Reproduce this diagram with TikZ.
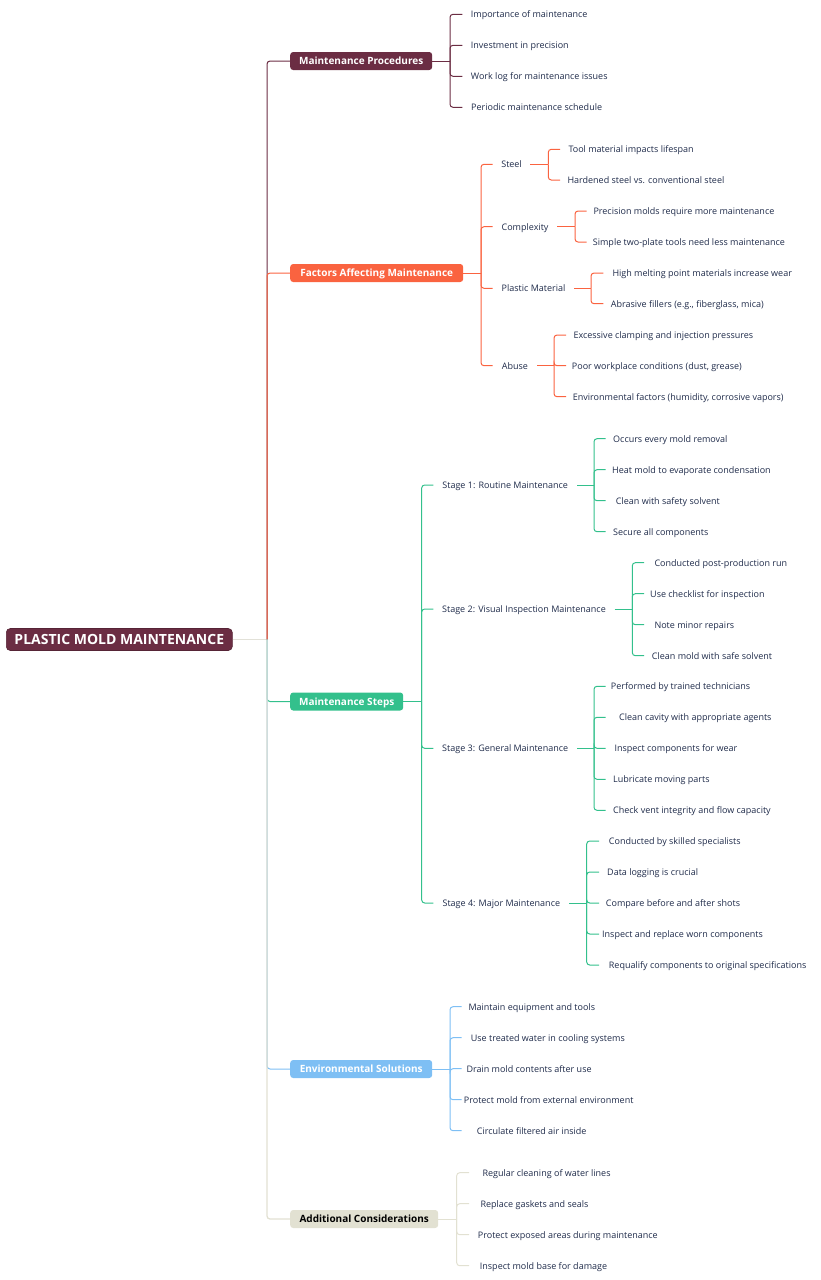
\documentclass[tikz,border=0pt]{standalone}
\usepackage{fontspec}
\setmainfont{Open Sans}
\definecolor{cmp}{HTML}{6B2D43}
\definecolor{cfa}{HTML}{FA6340}
\definecolor{cms}{HTML}{33C08C}
\definecolor{ces}{HTML}{7EBFF4}
\definecolor{cac}{HTML}{E2E1D2}
\definecolor{cgrey}{HTML}{E2E1D8}
\definecolor{leafc}{HTML}{1F2B4A}
\begin{document}
\begin{tikzpicture}[x=1pt,y=-1pt,
  link/.style={line width=1pt, rounded corners=3pt},
  leaf/.style={anchor=west, inner sep=0pt, text=leafc, font=\fontsize{9}{10}\selectfont, text height=6.6pt, text depth=0pt},
  mid/.style={leaf, align=center},
  mainbox/.style={anchor=west, rounded corners=3pt, minimum height=18pt, inner sep=0pt, font=\bfseries\fontsize{10}{12}\selectfont, text=white, text height=7pt, text depth=0pt},
  rootbox/.style={anchor=west, rounded corners=4pt, minimum height=22pt, inner sep=0pt, font=\bfseries\fontsize{14}{16}\selectfont, text=white, text height=9.8pt, text depth=0pt, draw=cmp!80!black, line width=0.6pt}
]
\useasboundingbox (0,0) rectangle (820,1280);

% root and main branches
\node[rootbox, fill=cmp, minimum width=226pt] (root) at (6,639.5) {PLASTIC MOLD MAINTENANCE};
\node[mainbox, fill=cmp, minimum width=142pt] (mp) at (290,61) {Maintenance Procedures};
\node[mainbox, fill=cfa, minimum width=173pt] (fam) at (290,273) {Factors Affecting Maintenance};
\node[mainbox, fill=cms, minimum width=113pt] (ms) at (290,701.5) {Maintenance Steps};
\node[mainbox, fill=ces, minimum width=142pt] (es) at (290,1069) {Environmental Solutions};
\node[mainbox, fill=cac, minimum width=148pt, text=black] (ac) at (290,1219) {Additional Considerations};

\coordinate (trunk) at (267,639.5);
\draw[link, cgrey] (root.east) -- (trunk);
\draw[link, cmp] (trunk) |- (mp.west);
\draw[link, cfa] (trunk) |- (fam.west);
\draw[link, cms] (trunk) |- (ms.west);
\draw[link, ces] (trunk) |- (es.west);
\draw[link, cac, line width=1.3pt] (trunk) |- (ac.west);

% Maintenance Procedures
\node[leaf] (mp1) at (462.3,14.3) {\hspace{8.4pt}Importance of maintenance};
\node[leaf] (mp2) at (462.3,45.3) {\hspace{8.4pt}Investment in precision};
\node[leaf] (mp3) at (462.3,76.3) {\hspace{8.4pt}Work log for maintenance issues};
\node[leaf] (mp4) at (462.3,107.3) {\hspace{8.7pt}Periodic maintenance schedule};
\coordinate (mpb) at (450,61);
\draw[link, cmp] (mp.east) -- (mpb);
\foreach \c in {mp1,mp2,mp3,mp4} \draw[link, cmp] (mpb) |- (\c.west);

% Factors Affecting Maintenance
\node[mid, minimum width=37.3pt] (steel) at (492.7,164.3) {Steel};
\node[mid, minimum width=64.3pt] (cplx) at (492.7,226.7) {Complexity};
\node[mid, minimum width=81.3pt] (plm) at (492.7,288.3) {Plastic Material};
\node[mid, minimum width=44pt] (abuse) at (492.7,365.7) {Abuse};
\coordinate (famb) at (481,273);
\draw[link, cfa] (fam.east) -- (famb);
\foreach \c in {steel,cplx,plm,abuse} \draw[link, cfa] (famb) |- (\c.west);

\node[leaf] (st1) at (560,149.3) {\hspace{8.3pt}Tool material impacts lifespan};
\node[leaf] (st2) at (560,180) {\hspace{7.3pt}Hardened steel vs. conventional steel};
\coordinate (steelb) at (548.3,164.3);
\draw[link, cfa] (steel.east) -- (steelb);
\foreach \c in {st1,st2} \draw[link, cfa] (steelb) |- (\c.west);

\node[leaf] (cx1) at (586.7,211) {\hspace{6.6pt}Precision molds require more maintenance};
\node[leaf] (cx2) at (586.7,242) {\hspace{6pt}Simple two-plate tools need less maintenance};
\coordinate (cplxb) at (575,226.7);
\draw[link, cfa] (cplx.east) -- (cplxb);
\foreach \c in {cx1,cx2} \draw[link, cfa] (cplxb) |- (\c.west);

\node[leaf] (pm1) at (603.3,273) {\hspace{9pt}High melting point materials increase wear};
\node[leaf] (pm2) at (603.3,303.7) {\hspace{7.4pt}Abrasive fillers (e.g., fiberglass, mica)};
\coordinate (plmb) at (591,288.3);
\draw[link, cfa] (plm.east) -- (plmb);
\foreach \c in {pm1,pm2} \draw[link, cfa] (plmb) |- (\c.west);

\node[leaf] (ab1) at (566,335) {\hspace{7.3pt}Excessive clamping and injection pressures};
\node[leaf] (ab2) at (566,365.7) {\hspace{5.7pt}Poor workplace conditions (dust, grease)};
\node[leaf] (ab3) at (566,396.7) {\hspace{6.7pt}Environmental factors (humidity, corrosive vapors)};
\coordinate (abuseb) at (554,365.7);
\draw[link, cfa] (abuse.east) -- (abuseb);
\foreach \c in {ab1,ab2,ab3} \draw[link, cfa] (abuseb) |- (\c.west);

% Maintenance Steps
\node[mid, minimum width=143.4pt] (sg1) at (433.3,485) {Stage 1: Routine Maintenance};
\node[mid, minimum width=181pt] (sg2) at (433.3,609) {Stage 2: Visual Inspection Maintenance};
\node[mid, minimum width=143.4pt] (sg3) at (433.3,748.3) {Stage 3: General Maintenance};
\node[mid, minimum width=135.7pt] (sg4) at (433.3,903) {Stage 4: Major Maintenance};
\coordinate (msb) at (421.7,701.5);
\draw[link, cms] (ms.east) -- (msb);
\foreach \c in {sg1,sg2,sg3,sg4} \draw[link, cms] (msb) |- (\c.west);

\node[leaf] (a1) at (605.7,438.7) {\hspace{7.3pt}Occurs every mold removal};
\node[leaf] (a2) at (605.7,469.7) {\hspace{6.3pt}Heat mold to evaporate condensation};
\node[leaf] (a3) at (605.7,500.7) {\hspace{10pt}Clean with safety solvent};
\node[leaf] (a4) at (605.7,531.7) {\hspace{7.3pt}Secure all components};
\coordinate (sg1b) at (594,485);
\draw[link, cms] (sg1.east) -- (sg1b);
\foreach \c in {a1,a2,a3,a4} \draw[link, cms] (sg1b) |- (\c.west);

\node[leaf] (b1) at (644,562.7) {\hspace{10.3pt}Conducted post-production run};
\node[leaf] (b2) at (644,593.7) {\hspace{6pt}Use checklist for inspection};
\node[leaf] (b3) at (644,624.7) {\hspace{10.3pt}Note minor repairs};
\node[leaf] (b4) at (644,655.7) {\hspace{7.7pt}Clean mold with safe solvent};
\coordinate (sg2b) at (632.3,609);
\draw[link, cms] (sg2.east) -- (sg2b);
\foreach \c in {b1,b2,b3,b4} \draw[link, cms] (sg2b) |- (\c.west);

\node[leaf] (c1) at (605.7,686.3) {\hspace{5pt}Performed by trained technicians};
\node[leaf] (c2) at (605.7,717.3) {\hspace{13.3pt}Clean cavity with appropriate agents};
\node[leaf] (c3) at (605.7,748.3) {\hspace{8.6pt}Inspect components for wear};
\node[leaf] (c4) at (605.7,779.3) {\hspace{7.3pt}Lubricate moving parts};
\node[leaf] (c5) at (605.7,810.3) {\hspace{7.3pt}Check vent integrity and flow capacity};
\coordinate (sg3b) at (594,748.3);
\draw[link, cms] (sg3.east) -- (sg3b);
\foreach \c in {c1,c2,c3,c4,c5} \draw[link, cms] (sg3b) |- (\c.west);

\node[leaf] (d1) at (599,841) {\hspace{9.7pt}Conducted by skilled specialists};
\node[leaf] (d2) at (599,872) {\hspace{8pt}Data logging is crucial};
\node[leaf] (d3) at (599,903) {\hspace{6.7pt}Compare before and after shots};
\node[leaf] (d4) at (599,934) {\hspace{3pt}Inspect and replace worn components};
\node[leaf] (d5) at (599,965) {\hspace{9.7pt}Requalify components to original specifications};
\coordinate (sg4b) at (586.7,903);
\draw[link, cms] (sg4.east) -- (sg4b);
\foreach \c in {d1,d2,d3,d4,d5} \draw[link, cms] (sg4b) |- (\c.west);

% Environmental Solutions
\node[leaf] (e1) at (461.7,1006.7) {\hspace{6.6pt}Maintain equipment and tools};
\node[leaf] (e2) at (461.7,1037.7) {\hspace{9pt}Use treated water in cooling systems};
\node[leaf] (e3) at (461.7,1068.7) {\hspace{4.6pt}Drain mold contents after use};
\node[leaf] (e4) at (461.7,1099.7) {\hspace{2pt}Protect mold from external environment};
\node[leaf] (e5) at (461.7,1130.7) {\hspace{15pt}Circulate filtered air inside};
\coordinate (esb) at (450,1069);
\draw[link, ces] (es.east) -- (esb);
\foreach \c in {e1,e2,e3,e4,e5} \draw[link, ces] (esb) |- (\c.west);

% Additional Considerations
\node[leaf] (f1) at (469,1172.7) {\hspace{13.3pt}Regular cleaning of water lines};
\node[leaf] (f2) at (469,1203.7) {\hspace{11.3pt}Replace gaskets and seals};
\node[leaf] (f3) at (469,1234.7) {\hspace{8.7pt}Protect exposed areas during maintenance};
\node[leaf] (f4) at (469,1265.7) {\hspace{10.7pt}Inspect mold base for damage};
\coordinate (acb) at (456.7,1219);
\draw[link, cac] (ac.east) -- (acb);
\foreach \c in {f1,f2,f3,f4} \draw[link, cac] (acb) |- (\c.west);
\end{tikzpicture}
\end{document}
